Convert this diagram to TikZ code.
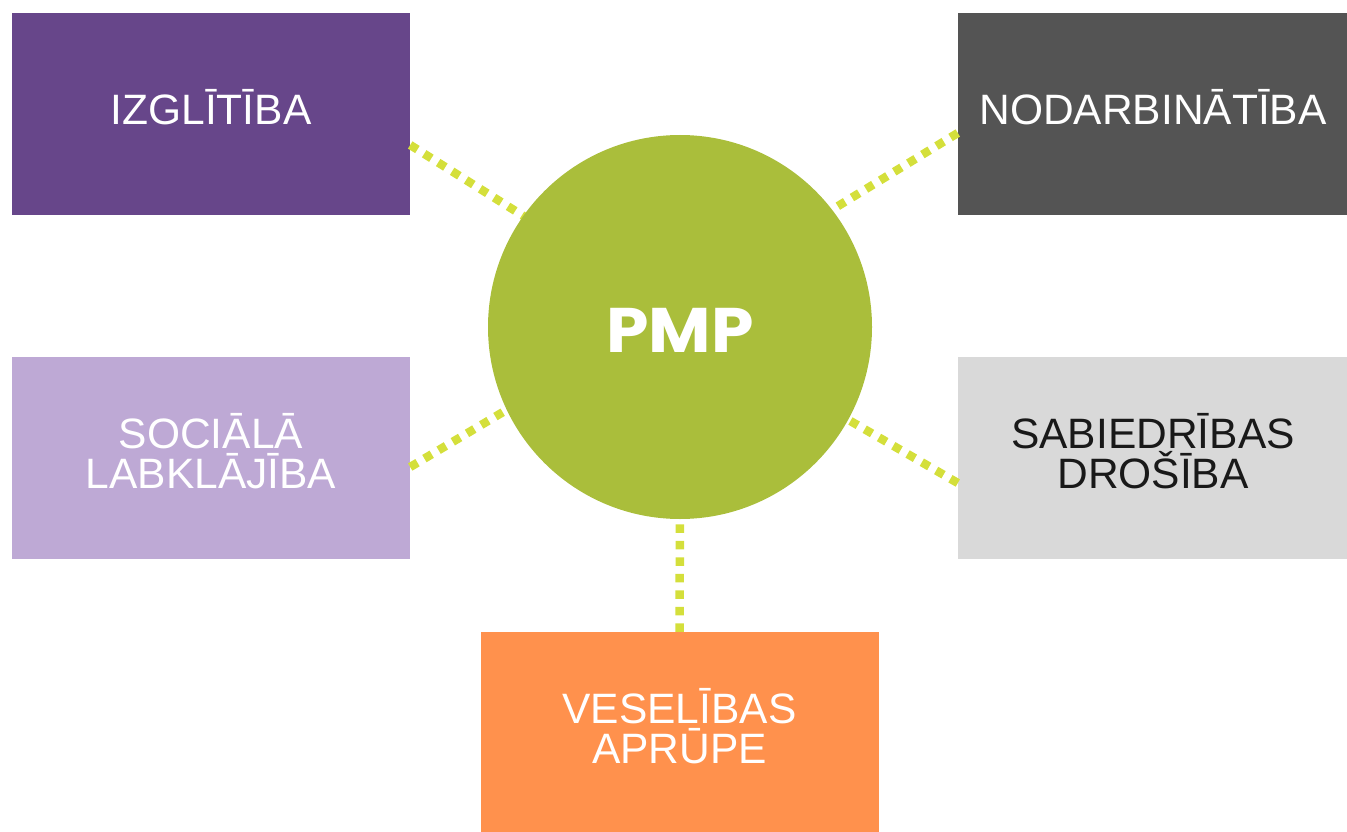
\documentclass[tikz,border=0pt]{standalone}
\usepackage{fontspec}
\usepackage{graphicx}
\setmainfont{Liberation Sans}
\newfontfamily\pmpfont{Poppins}
\definecolor{purpA}{HTML}{67468A}
\definecolor{grayA}{HTML}{545454}
\definecolor{purpB}{HTML}{BEA9D5}
\definecolor{grayB}{HTML}{D9D9D9}
\definecolor{orangeA}{HTML}{FF914D}
\definecolor{greenA}{HTML}{AABE3B}
\definecolor{dotA}{HTML}{D4DF3B}
\tikzset{
  box/.style={rectangle, minimum width=398pt, minimum height=202pt, inner sep=0pt},
  txt/.style={inner sep=0pt, align=center, text=white, font=\fontsize{42.5}{40.5}\selectfont},
  link/.style={draw=dotA, line width=8.5pt, dash pattern=on 8.5pt off 8pt},
}
\begin{document}
\begin{tikzpicture}[x=1pt,y=-1pt]
\useasboundingbox (0,0) rectangle (1347,832);
\node[box, fill=purpA, label={[txt, yshift=7pt]center:IZGLĪTĪBA}] (izg) at (211,114) {};
\node[box, fill=grayA, minimum width=390pt, label={[txt, yshift=7pt]center:NODARBINĀTĪBA}] (nod) at (1153,114) {};
\node[box, fill=purpB, label={[txt, yshift=7pt]center:SOCIĀLĀ\\LABKLĀJĪBA}] (soc) at (211,458) {};
\node[box, fill=grayB, minimum width=390pt, label={[txt, text=black!90, yshift=7pt]center:SABIEDRĪBAS\\DROŠĪBA}] (sab) at (1153,458) {};
\node[box, fill=orangeA, minimum height=200pt, label={[txt, yshift=6pt]center:VESELĪBAS\\APRŪPE}] (ves) at (679.5,732) {};
\coordinate (c1) at (525,217);
\coordinate (c2) at (825,214);
\coordinate (c3) at (520,402);
\coordinate (c4) at (840,415);
\coordinate (c5) at (680,500);
\draw[link] (izg.east |- 0,145) -- (c1);
\draw[link] (nod.west |- 0,133) -- (c2);
\draw[link] (soc.west -| izg.east) ++(0,9) -- (c3);
\draw[link] (sab.west) ++(0,25) -- (c4);
\draw[link] (ves.north) -- (c5);
\node[circle, fill=greenA, minimum size=384pt, inner sep=0pt,
  label={[inner sep=0pt, text=white, yshift=-3pt, font=\pmpfont\bfseries\fontsize{63}{63}\selectfont]center:\scalebox{1.08}[1]{PMP}}] (pmp) at (680,327) {};
\end{tikzpicture}
\end{document}
